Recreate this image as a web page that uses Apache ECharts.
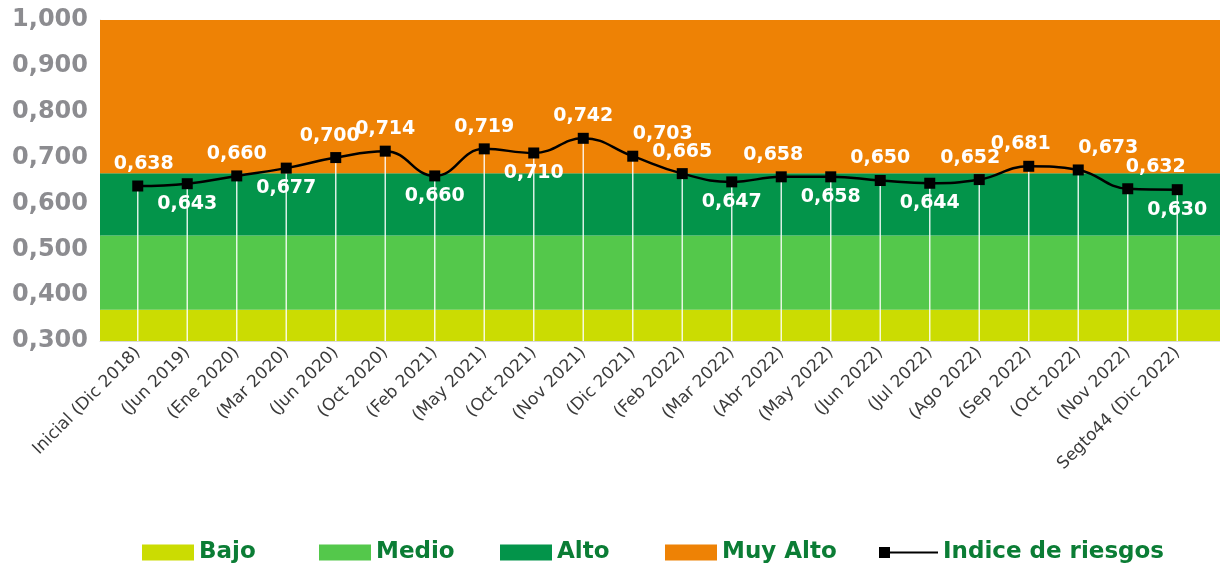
<!DOCTYPE html>
<html>
<head>
<meta charset="utf-8">
<script src="https://cdn.jsdelivr.net/npm/echarts@6/dist/echarts.min.js"></script>
<style>
  html, body { margin: 0; padding: 0; background: #fff; }
  #chart { width: 1220px; height: 567px; }
</style>
</head>
<body>
<div id="chart"></div>
<script>
// periodos del eje x
var categorias = [
    'Inicial (Dic 2018)', '(Jun 2019)', '(Ene 2020)', '(Mar 2020)', '(Jun 2020)',
    '(Oct 2020)', '(Feb 2021)', '(May 2021)', '(Oct 2021)', '(Nov 2021)',
    '(Dic 2021)', '(Feb 2022)', '(Mar 2022)', '(Abr 2022)', '(May 2022)',
    '(Jun 2022)', '(Jul 2022)', '(Ago 2022)', '(Sep 2022)', '(Oct 2022)',
    '(Nov 2022)', 'Segto44 (Dic 2022)'
];

// indice de riesgos por periodo
var indice = [
    0.638, 0.643, 0.660, 0.677, 0.700, 0.714, 0.660, 0.719, 0.710, 0.742, 0.703,
    0.665, 0.647, 0.658, 0.658, 0.650, 0.644, 0.652, 0.681, 0.673, 0.632, 0.630
];

// niveles de riesgo (limites de cada franja)
var niveles = ['Bajo', 'Medio', 'Alto', 'Muy Alto'];
var limites = [0.300, 0.368, 0.530, 0.666, 1.000];

// marcas del eje y
var ticksY = [0.3, 0.4, 0.5, 0.6, 0.7, 0.8, 0.9, 1.0];

// estilo: colores, leyenda y colocacion de etiquetas
var coloresNivel = ['#cbdc02', '#54c84b', '#03944a', '#ee8205'];
var leyendaX = [142, 319, 500, 665, 879];
var etiquetaAbajo = [1, 3, 6, 8, 12, 14, 16, 21];
var etiquetaDesplazada = { 0: 6, 4: -6, 10: 30, 13: -8, 17: -9, 18: -8, 19: 30, 20: 28 };

function coma(v) {
    return v.toFixed(3).replace('.', ',');
}

var myChart = echarts.init(document.getElementById('chart'));

var seriesNiveles = niveles.map(function (n, i) {
    return {
        name: n,
        type: 'line',
        xAxisIndex: 0,
        yAxisIndex: 0,
        data: [],
        color: coloresNivel[i],
        z: 1,
        markArea: {
            silent: true,
            itemStyle: { color: coloresNivel[i], opacity: 1 },
            data: [[{ yAxis: limites[i] }, { yAxis: limites[i + 1] }]]
        }
    };
});

var datosLinea = indice.map(function (v, i) {
    var abajo = etiquetaAbajo.indexOf(i) >= 0;
    return {
        value: v,
        label: {
            position: abajo ? 'bottom' : 'top',
            distance: abajo ? 5 : 7,
            offset: [etiquetaDesplazada[i] || 0, 0]
        }
    };
});

var nombresLeyenda = niveles.concat(['Indice de riesgos']);
var leyendas = nombresLeyenda.map(function (n, i) {
    var esLinea = i === nombresLeyenda.length - 1;
    return {
        left: leyendaX[i],
        top: 541,
        padding: 0,
        itemWidth: esLinea ? 59 : 52,
        itemHeight: 16,
        itemGap: 6,
        textStyle: { color: '#0b7d35', fontSize: 23, fontWeight: 'bold', fontFamily: 'DejaVu Sans' },
        data: [{
            name: n,
            icon: esLinea ? 'path://M0,0h11v11h-11Z M11,4.5h48v2h-48Z' : 'rect'
        }]
    };
});

var option = {
    animation: false,
    textStyle: { fontFamily: 'DejaVu Sans' },
    grid: [
        { left: 100, right: 0, top: 20, bottom: 226 },
        { left: 113, right: 18, top: 20, bottom: 226 }
    ],
    xAxis: [
        {
            type: 'value', gridIndex: 0, min: 0, max: 1,
            axisLine: { show: true, lineStyle: { color: '#d9d9d9', width: 1 } },
            axisTick: { show: false }, axisLabel: { show: false }, splitLine: { show: false }
        },
        {
            type: 'category', gridIndex: 1, data: categorias, boundaryGap: true,
            axisLine: { show: false }, axisTick: { show: false },
            axisLabel: {
                interval: 0, rotate: 45, margin: 9,
                color: '#3a3a3a', fontSize: 17, fontFamily: 'DejaVu Sans'
            }
        }
    ],
    yAxis: [
        {
            type: 'value', gridIndex: 0, min: ticksY[0], max: ticksY[ticksY.length - 1], interval: 0.1,
            axisLine: { show: true, lineStyle: { color: '#d9d9d9', width: 1 } },
            axisTick: { show: false }, splitLine: { show: false },
            axisLabel: {
                margin: 12, color: '#8c8c90', fontSize: 24, fontWeight: 'bold',
                formatter: function (v) { return coma(v); }
            }
        },
        {
            type: 'value', gridIndex: 1, min: ticksY[0], max: ticksY[ticksY.length - 1],
            show: false, splitLine: { show: false }
        }
    ],
    legend: leyendas,
    series: seriesNiveles.concat([
        {
            name: 'guias',
            type: 'bar',
            xAxisIndex: 1,
            yAxisIndex: 1,
            data: indice,
            barWidth: 1.5,
            silent: true,
            z: 2,
            itemStyle: { color: 'rgba(255,255,255,0.85)' }
        },
        {
            name: 'Indice de riesgos',
            type: 'line',
            xAxisIndex: 1,
            yAxisIndex: 1,
            data: datosLinea,
            smooth: 0.45,
            symbol: 'rect',
            symbolSize: 11,
            color: '#000',
            z: 5,
            lineStyle: { color: '#000', width: 2.5 },
            itemStyle: { color: '#000' },
            label: {
                show: true,
                color: '#fff',
                fontSize: 19,
                fontWeight: 'bold',
                fontFamily: 'DejaVu Sans',
                formatter: function (p) { return coma(p.value); }
            }
        }
    ])
};

myChart.setOption(option);
window.addEventListener('resize', function () {
    myChart.resize();
});
</script>
</body>
</html>
